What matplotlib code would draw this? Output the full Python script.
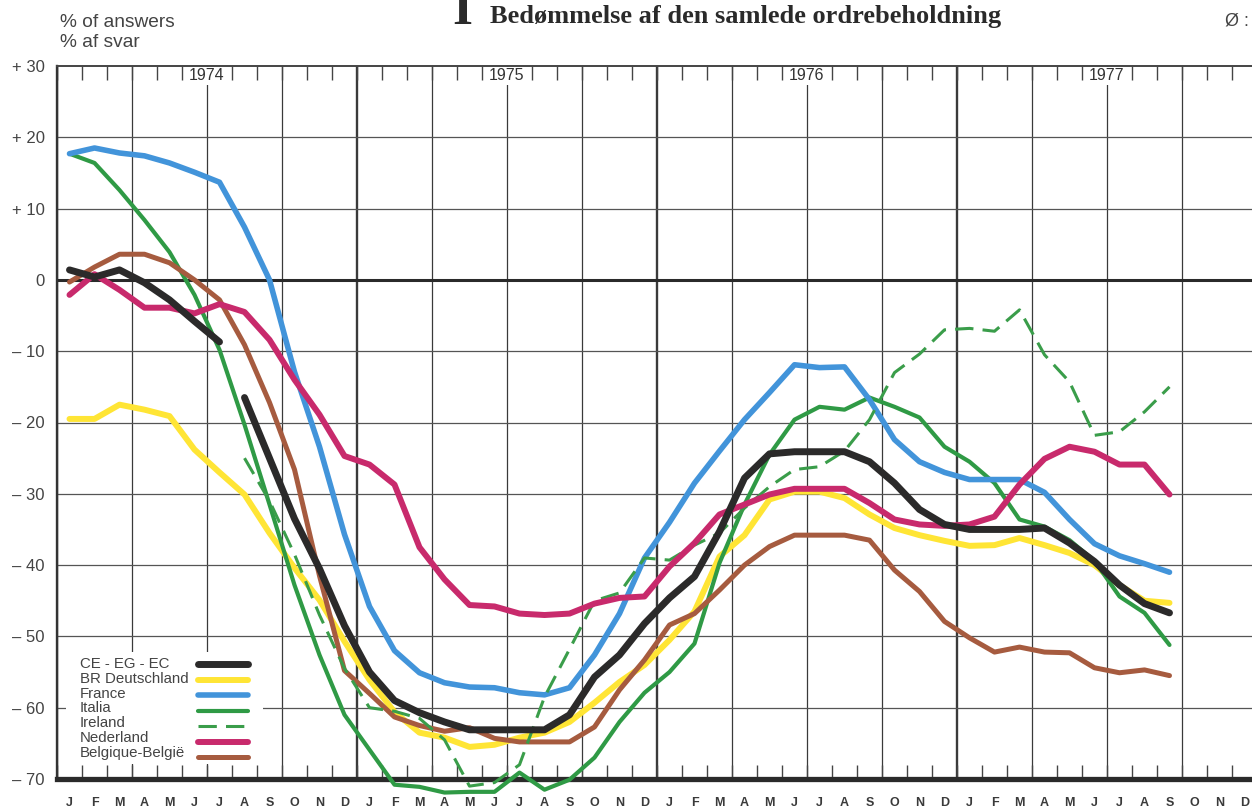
import numpy as np
import matplotlib.pyplot as plt
from matplotlib.patches import Rectangle
from matplotlib.lines import Line2D

plt.rcParams['font.family'] = ['Liberation Sans', 'DejaVu Sans']

# months Jan 1974 .. Sep 1977
month_letters = ["J", "F", "M", "A", "M", "J", "J", "A", "S", "O", "N", "D"]
years = [1974, 1975, 1976, 1977]
y_ticks = [30, 20, 10, 0, -10, -20, -30, -40, -50, -60, -70]
y_labels = ["+ 30", "+ 20", "+ 10", "0", "– 10", "– 20", "– 30", "– 40", "– 50", "– 60", "– 70"]

ce = [1.4, 0.4, 1.4, -0.4, -2.8, -5.8, -8.7, -16.5, -25, -33.5, -40.5, -48.5,
      -55, -59, -60.7, -62, -63.1, -63.1, -63.1, -63.1, -61, -55.7, -52.6, -48.2,
      -44.6, -41.6, -35.3, -27.8, -24.4, -24.1, -24.1, -24.1, -25.5, -28.5, -32.2, -34.3,
      -35, -35, -35, -34.8, -36.9, -39.5, -42.8, -45.4, -46.7]
de = [-19.5, -19.5, -17.5, -18.2, -19.1, -23.8, -27, -30.1, -35.5, -40.4, -44.9, -50.7,
      -56.1, -60.6, -63.5, -64.2, -65.5, -65.2, -64.2, -63.5, -62, -59.3, -56.4, -54,
      -50.5, -46.5, -38.8, -35.8, -30.8, -29.7, -29.7, -30.6, -32.9, -34.8, -35.8, -36.6,
      -37.3, -37.2, -36.2, -37.2, -38.3, -40, -42.8, -45, -45.3]
fr = [17.7, 18.5, 17.8, 17.4, 16.4, 15.1, 13.7, 7.4, 0, -12.9, -23.4, -35.7,
      -45.8, -52, -55.1, -56.5, -57.1, -57.2, -57.9, -58.2, -57.2, -52.6, -46.8, -39,
      -34, -28.5, -24, -19.6, -15.8, -11.9, -12.3, -12.2, -16.8, -22.4, -25.5, -27,
      -28, -28, -28, -29.8, -33.6, -37, -38.7, -39.8, -41]
it = [17.7, 16.4, 12.6, 8.4, 3.9, -2.1, -9.8, -20.3, -31.5, -42.8, -52.6, -61,
      -65.9, -70.8, -71.1, -71.9, -71.8, -71.8, -69.1, -71.5, -70.1, -67, -62, -57.9,
      -55, -51, -39.7, -31.5, -24.5, -19.6, -17.8, -18.2, -16.5, -17.8, -19.3, -23.4,
      -25.5, -28.5, -33.6, -34.6, -36.5, -39.4, -44.4, -46.7, -51.2]
ie = [np.nan] * 7 + [-25, -31, -38.5, -47, -54.5,
      -60, -60.5, -61.5, -64.5, -71, -70.5, -68, -58.5, -51.8, -45, -43.9, -39,
      -39.3, -37.2, -35.5, -32, -29, -26.6, -26.2, -24, -19.6, -13, -10.4, -7,
      -6.8, -7.2, -4.2, -10.5, -14.3, -21.8, -21.3, -18.5, -15]
nl = [-2.1, 0.8, -1.4, -3.9, -3.9, -4.7, -3.4, -4.5, -8.4, -14, -18.9, -24.7,
      -25.9, -28.7, -37.5, -42, -45.6, -45.8, -46.8, -47, -46.8, -45.4, -44.6, -44.4,
      -40.2, -36.9, -32.9, -31.5, -30.1, -29.3, -29.3, -29.3, -31.3, -33.6, -34.3, -34.5,
      -34.3, -33.2, -28.7, -25.1, -23.4, -24.1, -25.9, -25.9, -30.1]
be = [-0.3, 1.8, 3.6, 3.6, 2.4, 0, -2.8, -9.1, -17.2, -26.6, -41.5, -54.8,
      -58, -61.3, -62.5, -63.3, -62.8, -64.3, -64.8, -64.8, -64.8, -62.7, -57.5, -53.3,
      -48.4, -46.8, -43.5, -40, -37.4, -35.8, -35.8, -35.8, -36.5, -40.7, -43.7, -47.9,
      -50.2, -52.2, -51.5, -52.2, -52.3, -54.4, -55.1, -54.7, -55.5]

labels = ["CE - EG - EC", "BR Deutschland", "France", "Italia", "Ireland",
          "Nederland", "Belgique-België"]
series = [ce, de, fr, it, ie, nl, be]
styles = [
    dict(color="#2b2a2a", lw=5.0, zorder=9),
    dict(color="#ffe535", lw=4.3, zorder=4),
    dict(color="#4294da", lw=4.0, zorder=6),
    dict(color="#2f9a45", lw=3.0, zorder=5),
    dict(color="#3a9d4a", lw=2.2, zorder=7, dashes=(6, 3)),
    dict(color="#c82a6c", lw=4.3, zorder=8),
    dict(color="#a65b3f", lw=3.6, zorder=5),
]

W, H = 1252, 809
fig = plt.figure(figsize=(W / 100, H / 100), dpi=100)
ax = fig.add_axes([57 / W, 1 - 779 / H, 1200 / W, 713 / H])
ax.set_xlim(0, 48)
ax.set_ylim(-70, 30)

x = np.arange(len(ce)) + 0.5

# grid
for k in range(0, 49, 3):
    ax.axvline(k, color="#3a3a3a", lw=1.7 if k % 12 == 0 else 0.9, zorder=1)
for v in range(-60, 30, 10):
    if v == 0:
        ax.axhline(v, color="#2a2a2a", lw=2.2, zorder=1)
    else:
        ax.axhline(v, color="#555555", lw=0.9, zorder=1)

ax.spines["right"].set_visible(False)
ax.spines["top"].set_linewidth(1.4)
ax.spines["top"].set_color("#444444")
ax.spines["left"].set_linewidth(1.7)
ax.spines["left"].set_color("#333333")
ax.spines["bottom"].set_linewidth(3.8)
ax.spines["bottom"].set_color("#2a2a2a")

ax.set_xticks(np.arange(48) + 0.5)
ax.set_xticklabels(month_letters * 4, fontsize=9, fontweight="bold", color="#3a3a3a")
ax.set_xticks(np.arange(49), minor=True)
ax.tick_params(axis="x", which="major", length=0, pad=13)
ax.tick_params(axis="x", which="minor", direction="in", length=10, width=1.0,
               top=True, bottom=True, color="#444444")
ax.set_yticks(y_ticks)
ax.set_yticklabels(y_labels, fontsize=12, color="#444444")
ax.tick_params(axis="y", length=0, pad=9)

for k, yr in enumerate(years):
    ax.text(12 * k + 6, 28.6, str(yr), ha="center", va="center", fontsize=11.5,
            color="#333333", zorder=2,
            bbox=dict(facecolor="white", edgecolor="none", pad=1.2))

# data lines (not clipped: Italia and Ireland dip below the -70 line)
for name, vals, st in zip(labels, series, styles):
    v = np.array(vals, dtype=float)
    if name == "CE - EG - EC":
        ax.plot(x[:7], v[:7], solid_capstyle="round", clip_on=False, **st)
        ax.plot(x[7:], v[7:], solid_capstyle="round", clip_on=False, **st)
    else:
        ax.plot(x, v, solid_capstyle="round", clip_on=False, **st)

# legend (white box, text left, line sample right)
ax.add_patch(Rectangle((66 / W, 1 - 764 / H), 197 / W, 112 / H, transform=fig.transFigure,
                       facecolor="white", edgecolor="none", zorder=2))
for i, (name, st) in enumerate(zip(labels, styles)):
    ty = 664 + 14.8 * i
    hy = 664 + 15.5 * i
    fig.text(80 / W, 1 - ty / H, name, ha="left", va="center", fontsize=10.8, color="#444444")
    kw = dict(st)
    kw.pop("zorder")
    lw = kw.pop("lw")
    fig.add_artist(Line2D([198 / W, 248 / W], [1 - hy / H, 1 - hy / H], lw=lw,
                          solid_capstyle="round", transform=fig.transFigure, **kw))

# headings
fig.text(60 / W, 1 - 27 / H, "% of answers", fontsize=13.8, color="#444444", va="baseline")
fig.text(60 / W, 1 - 47 / H, "% af svar", fontsize=13.8, color="#444444", va="baseline")
fig.text(452 / W, 1 - 24 / H, "I", fontsize=37, fontweight="bold", color="#2a2a2a",
         family=["Liberation Serif", "DejaVu Serif"], va="baseline")
fig.text(490 / W, 1 - 23 / H, "Bedømmelse af den samlede ordrebeholdning", fontsize=19,
         fontweight="bold", color="#2a2a2a", family=["Liberation Serif", "DejaVu Serif"],
         va="baseline")
fig.text(1225 / W, 1 - 25 / H, "Ø :", fontsize=13, color="#444444", va="baseline")

fig.savefig("out.png", dpi=100)
